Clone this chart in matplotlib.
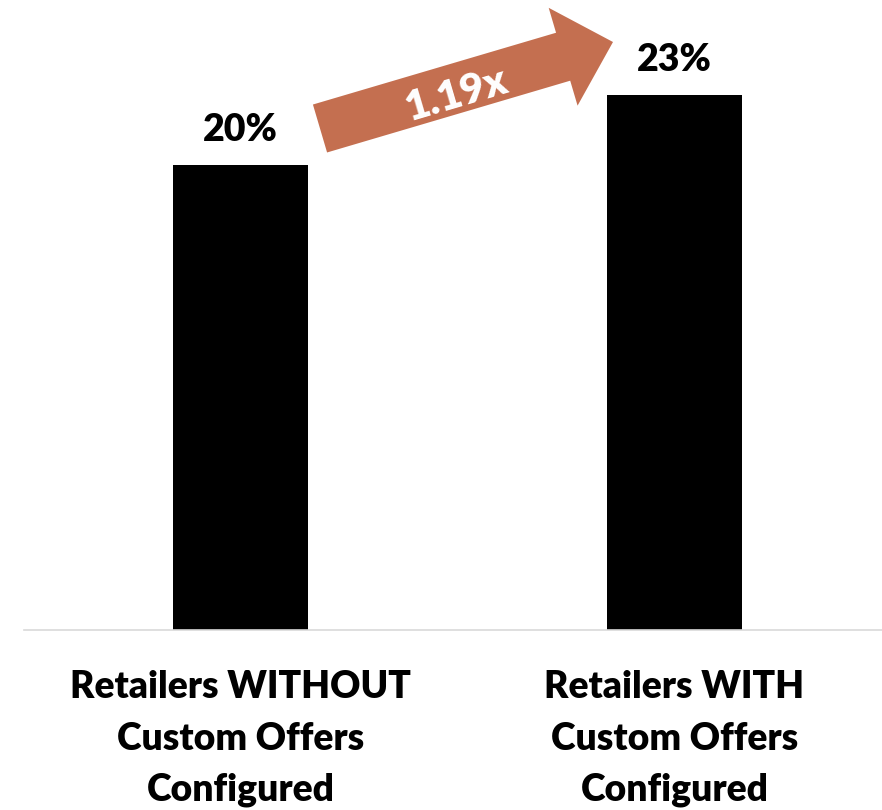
import matplotlib
matplotlib.use("Agg")
import matplotlib.pyplot as plt
from matplotlib.patches import FancyArrow
import math

categories = ["Retailers WITHOUT\nCustom Offers\nConfigured",
              "Retailers WITH\nCustom Offers\nConfigured"]
values = [20, 23]
value_labels = ["20%", "23%"]
ratio_label = "1.19x"

FONT = "Lato"
WEIGHT = "heavy"
W, H = 882, 810
fig = plt.figure(figsize=(W / 100, H / 100), dpi=100)

# main axes in pixel layout
left_px, right_px, base_px = 24, 882, 630
ax = fig.add_axes([left_px / W, (H - base_px) / H, (right_px - left_px) / W, base_px / H])
x = list(range(len(categories)))
ax.bar(x, values, width=0.313, color="black")
ax.set_xlim(-0.499, 1.478)
ax.set_ylim(0, 27.1)
for s in ["top", "right", "left"]:
    ax.spines[s].set_visible(False)
ax.spines["bottom"].set_color("#d9d9d9")
ax.spines["bottom"].set_linewidth(1.2)
ax.set_yticks([])
ax.set_xticks(x)
ax.set_xticklabels(categories, fontsize=26.8, fontweight=WEIGHT, family=FONT,
                   linespacing=1.62, va="top")
ax.tick_params(axis="x", length=0, pad=29)
for xi, v, lab in zip(x, values, value_labels):
    ax.annotate(lab, (xi, v), xytext=(0, 13), textcoords="offset points",
                ha="center", va="bottom", fontsize=27, fontweight=WEIGHT, family=FONT)

# overlay for the arrow annotation (pixel coordinates, y downwards)
ov = fig.add_axes([0, 0, 1, 1])
ov.set_xlim(0, W)
ov.set_ylim(H, 0)
ov.axis("off")
tail = (320, 128.5)
tip = (613, 42)
arrow = FancyArrow(tail[0], tail[1], tip[0] - tail[0], tip[1] - tail[1],
                   width=50, head_width=102, head_length=52,
                   length_includes_head=True, color="#C46F50", lw=0)
ov.add_patch(arrow)
ang = math.degrees(math.atan2(tail[1] - tip[1], tip[0] - tail[0]))
ov.text(457, 95, ratio_label, rotation=ang, rotation_mode="anchor",
        ha="center", va="center", color="white", fontsize=30,
        fontweight=WEIGHT, family=FONT)

fig.savefig("out.png", dpi=100)
